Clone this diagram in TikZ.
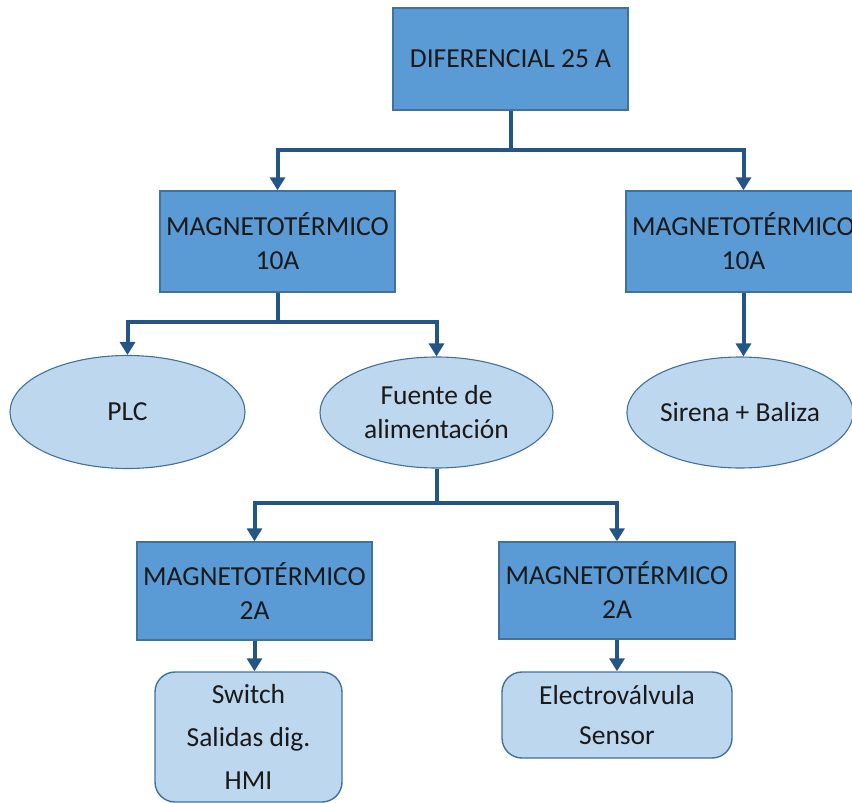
\documentclass[tikz,border=0pt]{standalone}
\usepackage{fontspec}
\setmainfont{Carlito}
\usetikzlibrary{shapes.geometric,arrows.meta}
\definecolor{boxfill}{HTML}{5B9BD5}
\definecolor{boxline}{HTML}{41719C}
\definecolor{palefill}{HTML}{BDD7EE}
\definecolor{wirecol}{HTML}{245587}
\definecolor{ink}{HTML}{1A1A1A}
\begin{document}
\begin{tikzpicture}[x=1pt,y=-1pt,
  breaker/.style={draw=boxline,line width=1.4pt,fill=boxfill,rectangle,
    inner sep=0pt,align=center,text=ink,font=\fontsize{27.5}{34}\selectfont},
  load/.style={draw=boxline,line width=1.1pt,fill=palefill,ellipse,
    inner sep=0pt,align=center,text=ink,font=\fontsize{27.5}{34}\selectfont},
  device/.style={draw=boxline,line width=1.4pt,fill=palefill,rectangle,
    rounded corners=20pt,inner sep=0pt,align=center,text=ink},
  wire/.style={draw=wirecol,line width=4pt,
    -{Triangle[length=13pt,width=15pt]}},
  bare/.style={draw=wirecol,line width=4pt}]
\useasboundingbox (0,0) rectangle (852,803);
\clip (0,0) rectangle (852,803);

% protection devices
\node[breaker,minimum width=235pt,minimum height=102pt] (dif) at (510.5,59) {DIFERENCIAL 25 A};
\node[breaker,minimum width=235pt,minimum height=101pt] (mA) at (277.5,241.5) {MAGNETOTÉRMICO\\10A};
\node[breaker,minimum width=235pt,minimum height=101pt] (mB) at (743.5,241.5) {MAGNETOTÉRMICO\\10A};
\node[breaker,minimum width=235pt,minimum height=98pt] (mC) at (254.5,591) {MAGNETOTÉRMICO\\2A};
\node[breaker,minimum width=236pt,minimum height=97pt] (mD) at (617,590.5) {MAGNETOTÉRMICO\\2A};

% loads
\node[load,minimum width=235pt,minimum height=113pt] (plc) at (127.5,412) {PLC};
\node[load,minimum width=233pt,minimum height=111pt] (psu) at (436.5,412.5) {Fuente de\\alimentación};
\node[load,minimum width=226pt,minimum height=111pt] (siren) at (740,412.5) {Sirena + Baliza};
\node[device,minimum width=187pt,minimum height=130pt,
  font=\fontsize{27.5}{43}\selectfont] (sw) at (248.5,737) {Switch\\Salidas dig.\\HMI};
\node[device,minimum width=230pt,minimum height=86pt,
  font=\fontsize{27.5}{40}\selectfont] (ev) at (617,715) {Electroválvula\\Sensor};

% bus levels
\coordinate (bus1) at (0,150);
\coordinate (bus2) at (0,322);
\coordinate (bus3) at (0,503);

% wiring
\draw[bare] (dif.south) -- (dif.south |- bus1);
\draw[wire] (dif.south |- bus1) -| (mA.north);
\draw[wire] (dif.south |- bus1) -| (mB.north);
\draw[bare] (mA.south) -- (mA.south |- bus2);
\draw[wire] (mA.south |- bus2) -| (plc.north);
\draw[wire] (mA.south |- bus2) -| (psu.north);
\draw[wire] (mB.south) -- (mB.south |- siren.north);
\draw[bare] (psu.south) -- (psu.south |- bus3);
\draw[wire] (psu.south |- bus3) -| (mC.north);
\draw[wire] (psu.south |- bus3) -| (mD.north);
\draw[wire] (mC.south) -- (mC.south |- sw.north);
\draw[wire] (mD.south) -- (ev.north);
\end{tikzpicture}
\end{document}
